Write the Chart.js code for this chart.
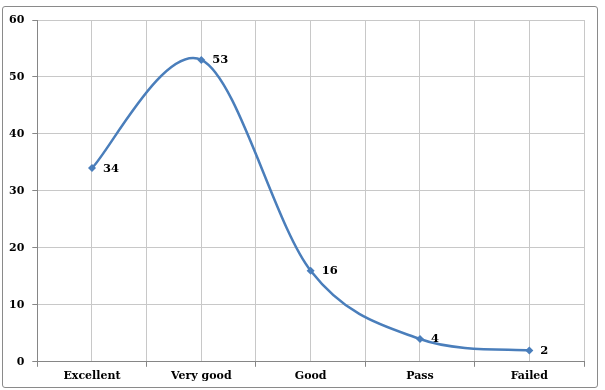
<!DOCTYPE html>
<html>
<head>
<meta charset="utf-8">
<script src="https://cdn.jsdelivr.net/npm/chart.js@4.4.0/dist/chart.umd.min.js"></script>
<style>
html,body{margin:0;padding:0;background:#fff;}
#wrap{position:relative;width:605px;height:390px;}
#frame{position:absolute;left:2px;top:6px;width:594px;height:380px;border:1.5px solid #8a8a8a;border-radius:3px;}
canvas{position:absolute;left:0;top:0;}
</style>
</head>
<body>
<div id="wrap">
<div id="frame"></div>
<canvas id="c" width="605" height="390"></canvas>
</div>
<script>
const categories = ["Excellent", "Very good", "Good", "Pass", "Failed"];
const values = [34, 53, 16, 4, 2];
const yTicks = [0, 10, 20, 30, 40, 50, 60];

const fontFam = '"DejaVu Serif", "Liberation Serif", serif';

// Excel-style smoothing (Catmull-Rom, 1/6 factor) applied to the library's own point positions
const excelSmooth = {
  id: 'excelSmooth',
  beforeDatasetDraw(chart, args) {
    const meta = args.meta;
    const line = meta.dataset;
    if (!line || typeof line.updateControlPoints !== 'function') return;
    line.updateControlPoints(chart.chartArea, 'x');
    const pts = meta.data;
    const n = pts.length;
    for (let i = 0; i < n; i++) {
      const p = pts[i];
      const prev = pts[Math.max(0, i - 1)];
      const next = pts[Math.min(n - 1, i + 1)];
      const dx = (next.x - prev.x) / 6;
      const dy = (next.y - prev.y) / 6;
      p.cp1x = p.x - dx; p.cp1y = p.y - dy;
      p.cp2x = p.x + dx; p.cp2y = p.y + dy;
    }
    line._path = undefined;
  }
};

const labelPlugin = {
  id: 'pointLabels',
  afterDatasetsDraw(chart) {
    const ctx = chart.ctx;
    const meta = chart.getDatasetMeta(0);
    ctx.save();
    ctx.font = 'bold 11.5px ' + fontFam;
    ctx.fillStyle = '#000';
    ctx.textAlign = 'left';
    ctx.textBaseline = 'middle';
    meta.data.forEach((pt, i) => {
      ctx.fillText(String(values[i]), pt.x + 11, pt.y + 0.5);
    });
    ctx.restore();
  }
};

new Chart(document.getElementById('c'), {
  type: 'line',
  data: {
    labels: categories,
    datasets: [{
      data: values,
      borderColor: '#4a7ebb',
      backgroundColor: '#4a7ebb',
      borderWidth: 2.5,
      tension: 0.4,
      pointStyle: 'rectRot',
      pointRadius: 4,
      pointBorderWidth: 0,
      pointBackgroundColor: '#4a7ebb',
      fill: false
    }]
  },
  options: {
    responsive: false,
    animation: false,
    layout: { padding: { left: 1, right: 21, top: 20, bottom: 4 } },
    plugins: { legend: { display: false }, tooltip: { enabled: false } },
    scales: {
      x: {
        type: 'category',
        position: 'bottom',
        offset: true,
        grid: { offset: true, color: '#c8c8c8', lineWidth: 1, tickLength: 5, tickColor: '#868686' },
        border: { color: '#868686', width: 1 },
        ticks: { color: '#000', font: { family: fontFam, size: 11, weight: 'bold' }, padding: 3, maxRotation: 0 }
      },
      x2: {
        type: 'category',
        labels: categories,
        position: 'top',
        offset: true,
        grid: { offset: false, color: '#c8c8c8', lineWidth: 1, drawTicks: false },
        border: { display: false },
        ticks: { display: false }
      },
      y: {
        min: 0,
        max: 60,
        afterBuildTicks(axis) { axis.ticks = yTicks.map(v => ({ value: v })); },
        grid: { color: '#c8c8c8', lineWidth: 1, tickLength: 5, tickColor: '#868686' },
        border: { color: '#868686', width: 1 },
        ticks: { color: '#000', font: { family: fontFam, size: 11, weight: 'bold' }, padding: 8 }
      }
    }
  },
  plugins: [excelSmooth, labelPlugin]
});
</script>
</body>
</html>
